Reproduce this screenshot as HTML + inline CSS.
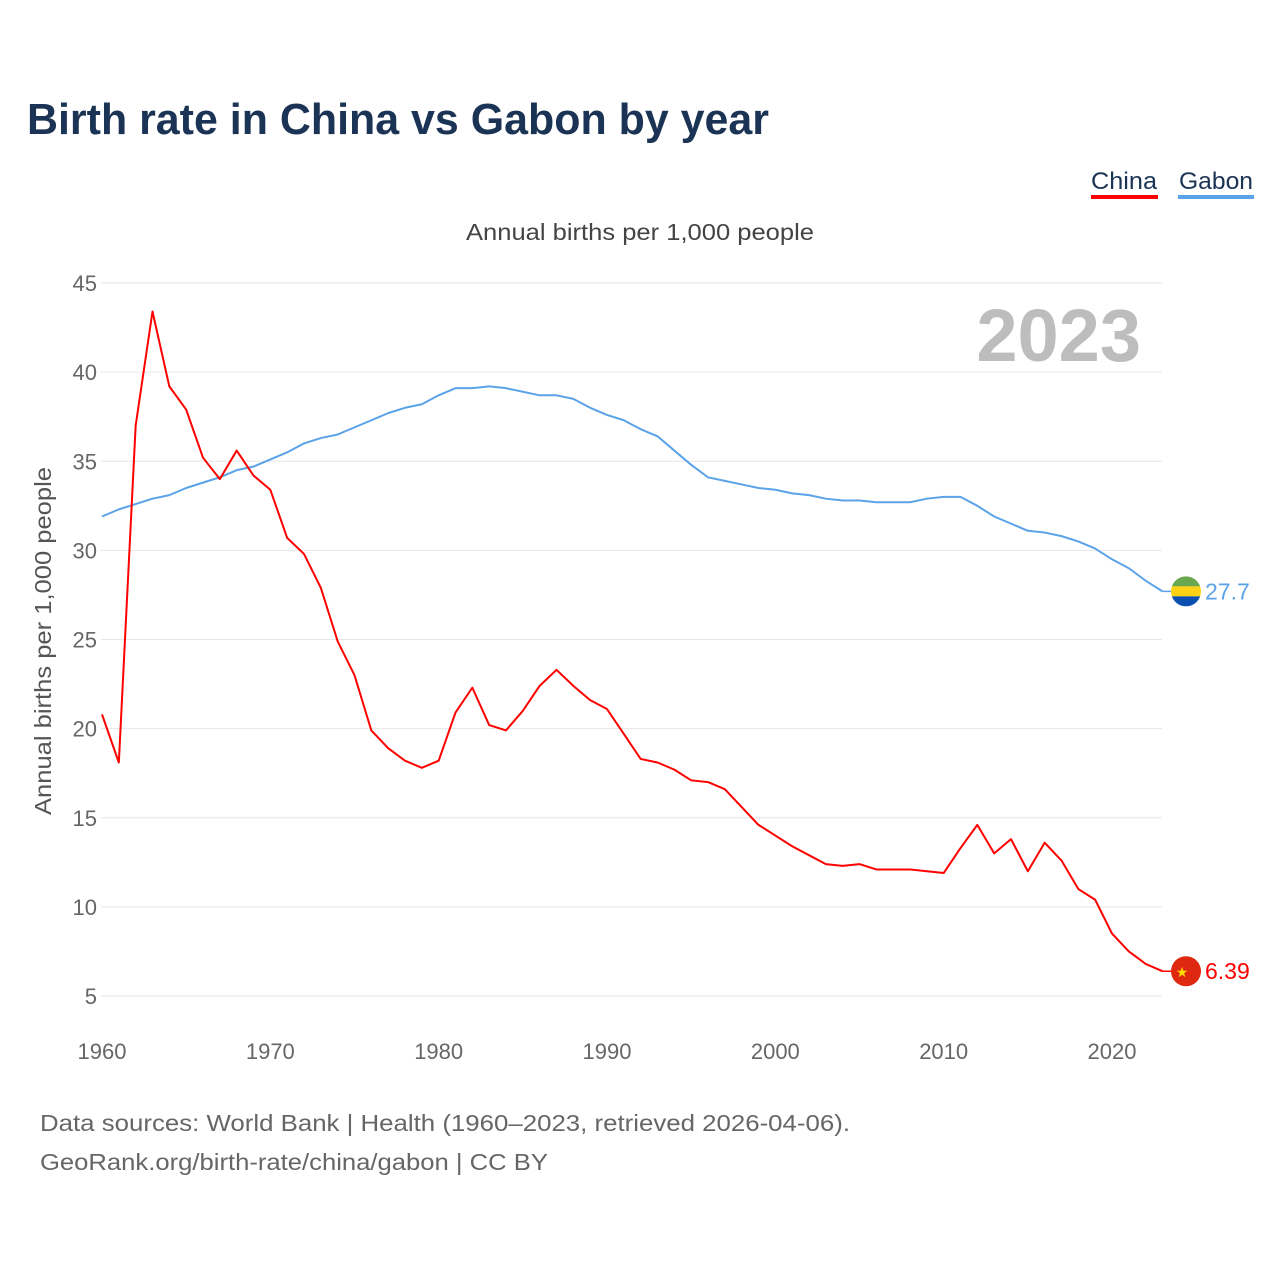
<!DOCTYPE html>
<html><head><meta charset="utf-8"><style>
body{margin:0;background:#fff;width:1280px;height:1280px;overflow:hidden;font-family:"Liberation Sans",sans-serif}
svg{display:block}
</style></head><body>
<svg id="chart" width="1280" height="1280" xmlns="http://www.w3.org/2000/svg">
<text x="27" y="134" font-size="44" font-weight="bold" fill="#1b3354" textLength="742" lengthAdjust="spacingAndGlyphs">Birth rate in China vs Gabon by year</text>
<g>
<text x="1091" y="189" font-size="24" fill="#1b3354" textLength="66" lengthAdjust="spacingAndGlyphs">China</text>
<rect x="1091" y="195" width="67" height="4" fill="#ff0000"/>
<text x="1179" y="189" font-size="24" fill="#1b3354" textLength="74" lengthAdjust="spacingAndGlyphs">Gabon</text>
<rect x="1178" y="195" width="76" height="4" fill="#5ba3e8"/>
</g>
<text x="466" y="240" font-size="23" fill="#444" textLength="348" lengthAdjust="spacingAndGlyphs">Annual births per 1,000 people</text>
<text x="1141" y="361" font-size="74" font-weight="bold" fill="#bdbdbd" text-anchor="end">2023</text>
<text transform="translate(51,815) rotate(-90)" font-size="23" fill="#555" textLength="348" lengthAdjust="spacingAndGlyphs">Annual births per 1,000 people</text>
<g id="grid"></g><g id="lines"></g><g id="ends"></g>
<text x="40" y="1131" font-size="23" fill="#666" textLength="810" lengthAdjust="spacingAndGlyphs">Data sources: World Bank | Health (1960–2023, retrieved 2026-04-06).</text>
<text x="40" y="1170" font-size="23" fill="#666" textLength="508" lengthAdjust="spacingAndGlyphs">GeoRank.org/birth-rate/china/gabon | CC BY</text>
</svg>
<script>
const years=[];for(let y=1960;y<=2023;y++)years.push(y);
const china=[20.8,18.1,37.0,43.4,39.2,37.9,35.2,34.0,35.6,34.2,33.4,30.7,29.8,27.9,24.9,23.0,19.9,18.9,18.2,17.8,18.2,20.9,22.3,20.2,19.9,21.0,22.4,23.3,22.4,21.6,21.1,19.7,18.3,18.1,17.7,17.1,17.0,16.6,15.6,14.6,14.0,13.4,12.9,12.4,12.3,12.4,12.1,12.1,12.1,12.0,11.9,13.3,14.6,13.0,13.8,12.0,13.6,12.6,11.0,10.4,8.5,7.5,6.8,6.39];
const gabon=[31.9,32.3,32.6,32.9,33.1,33.5,33.8,34.1,34.5,34.7,35.1,35.5,36.0,36.3,36.5,36.9,37.3,37.7,38.0,38.2,38.7,39.1,39.1,39.2,39.1,38.9,38.7,38.7,38.5,38.0,37.6,37.3,36.8,36.4,35.6,34.8,34.1,33.9,33.7,33.5,33.4,33.2,33.1,32.9,32.8,32.8,32.7,32.7,32.7,32.9,33.0,33.0,32.5,31.9,31.5,31.1,31.0,30.8,30.5,30.1,29.5,29.0,28.3,27.7];
const yTicks=[5,10,15,20,25,30,35,40,45];
const xTicks=[1960,1970,1980,1990,2000,2010,2020];
const NS="http://www.w3.org/2000/svg";
const X=y=>102+(y-1960)*(1112-102)/60;
const Y=v=>996-(v-5)*(996-283)/40;
function el(t,a,p){const e=document.createElementNS(NS,t);for(const k in a)e.setAttribute(k,a[k]);p.appendChild(e);return e;}
const grid=document.getElementById('grid');
yTicks.forEach(v=>{
 const l=el('line',{x1:101,x2:1162,y1:Y(v),y2:Y(v),stroke:'#e6e6e6','stroke-width':1},grid);
 
 
 const t=el('text',{x:97,y:Y(v)+8,'font-size':22,fill:'#666','text-anchor':'end'},grid);t.textContent=v;
 
 
});
xTicks.forEach(v=>{
 const t=el('text',{x:X(v),y:1059,'font-size':22,fill:'#666','text-anchor':'middle'},grid);t.textContent=v;
 
 
});
const lines=document.getElementById('lines');
function series(d,c,n){
 const p=el('polyline',{points:d.map((v,i)=>X(years[i])+','+Y(v)).join(' '),fill:'none',stroke:c,'stroke-width':2,'stroke-linejoin':'round'},lines);
 
 
}
series(gabon,'#5ba3e8','gabon');series(china,'#ff0000','china');
const ends=document.getElementById('ends');
const gy=Y(gabon[gabon.length-1]),cy=Y(china[china.length-1]),ex=X(2023);
el('line',{x1:ex,x2:1186,y1:gy,y2:gy,stroke:'#5ba3e8','stroke-width':1.5},ends);
el('line',{x1:ex,x2:1186,y1:cy,y2:cy,stroke:'#ff0000','stroke-width':1.5},ends);
const gf=el('g',{},ends);


const cp=el('clipPath',{id:'gc'},gf);
el('circle',{cx:1186,cy:gy,r:15},cp);
const gg=el('g',{'clip-path':'url(#gc)'},gf);
el('rect',{x:1171,y:gy-15,width:30,height:10,fill:'#6aa84f'},gg);
el('rect',{x:1171,y:gy-5,width:30,height:10,fill:'#fcd116'},gg);
el('rect',{x:1171,y:gy+5,width:30,height:10,fill:'#0b4fb0'},gg);
const cf=el('g',{},ends);


el('circle',{cx:1186,cy:cy,r:15,fill:'#de2910'},cf);
const st=el('text',{x:1182,y:cy+6,'font-size':14,fill:'#ffde00','text-anchor':'middle'},cf);st.textContent='★';
const gl=el('text',{x:1205,y:gy+8,'font-size':23,fill:'#5ba3e8'},ends);gl.textContent=gabon[gabon.length-1];


const cl=el('text',{x:1205,y:cy+8,'font-size':23,fill:'#ff0000'},ends);cl.textContent=china[china.length-1];


</script>
</body></html>
